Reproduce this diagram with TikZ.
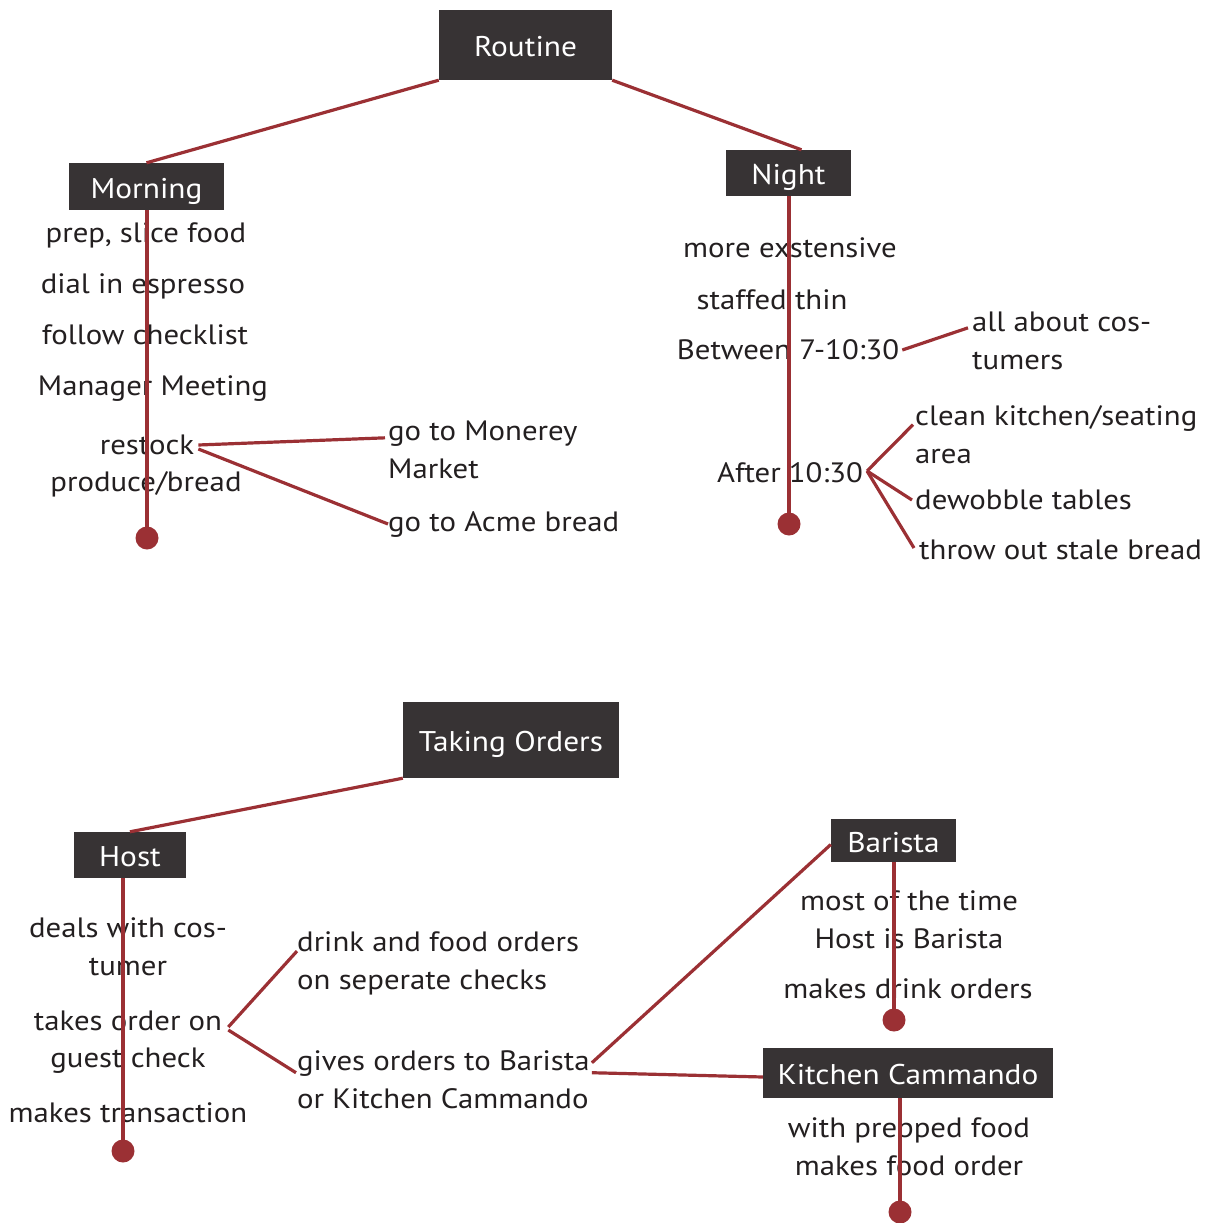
\documentclass[tikz,border=0pt]{standalone}
\usepackage{fontspec}
\setmainfont[FakeStretch=1.1]{PT Sans}
\usetikzlibrary{calc}
\definecolor{boxc}{HTML}{373334}
\definecolor{linec}{HTML}{9B3034}
\definecolor{txtc}{HTML}{231F20}
\begin{document}
\begin{tikzpicture}[x=1pt,y=-1pt,
  hdr/.style={fill=boxc,text=white,inner sep=0pt,text height=23pt,text depth=0pt,font=\fontsize{28.5}{34}\selectfont},
  itm/.style={text=txtc,inner sep=0pt,font=\fontsize{28}{38}\selectfont,align=center},
  itml/.style={itm,align=left,anchor=west},
  conn/.style={draw=linec,line width=3.2pt},
  enddot/.style={circle,fill=linec,inner sep=0pt,minimum size=23pt}]
\useasboundingbox (0,0) rectangle (1212,1223);
% ---------- top tree ----------
\node[hdr,minimum width=173pt,minimum height=70pt] (routine) at (525.5,45) {Routine};
\node[hdr,minimum width=155pt,minimum height=47pt] (morning) at (146.5,186.5) {Morning};
\node[hdr,minimum width=125pt,minimum height=46pt] (night) at (788.5,173) {Night};

\node[itm] (m1) at (146,235) {prep, slice food};
\node[itm] (m2) at (143,286) {dial in espresso};
\node[itm] (m3) at (145,335) {follow checklist};
\node[itm] (m4) at (153,389) {Manager Meeting};
\node[itm] (m5a) at (147,445) {restock};
\node[itm] (m5b) at (146,484) {produce/bread};
\node[enddot] (mdot) at (147,538) {};
\node[itml] (mon) at (388,450) {go to Monerey\\Market};
\node[itml] (acme) at (388,525) {go to Acme bread};

\node[itm] (n1) at (790,248) {more exstensive};
\node[itm] (n2) at (772,300) {staffed thin};
\node[itm] (n3) at (788,350) {Between 7-10:30};
\node[itml] (cos) at (972,341) {all about cos-\\tumers};
\node[itm] (n4) at (790,473) {After 10:30};
\node[itml] (clean) at (915,435) {clean kitchen/seating\\area};
\node[itml] (dew) at (915,500) {dewobble tables};
\node[itml] (stale) at (919,550) {throw out stale bread};
\node[enddot] (ndot) at (789,524) {};

\draw[conn] (routine.south west) -- (morning.north);
\draw[conn] (routine.south east) -- ($(night.north)+(13,0)$);
\draw[conn] (mdot.center) -- (mdot.center |- morning.south);
\draw[conn] (ndot.center) -- (ndot.center |- night.south);
\draw[conn] ($(m5a.east)+(4,0)$) -- ($(mon.north west)+(-3,17)$);
\draw[conn] ($(m5a.east)+(4,4)$) -- ($(acme.west)+(0,-1)$);
\draw[conn] ($(n3.east)+(3,0)$) -- ($(cos.north west)+(-4,16)$);
\draw[conn] ($(n4.east)+(4,-2)$) -- ($(clean.north west)+(-2,19)$);
\draw[conn] ($(n4.east)+(4,-2)$) -- ($(dew.west)+(-3,0)$);
\draw[conn] ($(n4.east)+(4,-2)$) -- ($(stale.west)+(-5,-2)$);

% ---------- bottom tree ----------
\node[hdr,minimum width=216pt,minimum height=76pt] (taking) at (511,740) {Taking Orders};
\node[hdr,minimum width=112pt,minimum height=46pt] (host) at (130,855) {Host};
\node[hdr,minimum width=125pt,minimum height=43pt] (barista) at (893.5,840.5) {Barista};
\node[hdr,minimum width=290pt,minimum height=50pt] (kitchen) at (908,1073) {Kitchen Cammando};

\node[itm] (h1) at (128,947) {deals with cos-\\tumer};
\node[itm] (h2a) at (128,1021) {takes order on};
\node[itm] (h2b) at (128,1061) {guest check};
\node[itm] (h3) at (128,1113) {makes transaction};
\node[enddot] (hdot) at (123,1151) {};
\node[itml] (drink) at (297,963) {drink and food orders\\on seperate checks};
\node[itml] (gives) at (297,1080) {gives orders to Barista\\or Kitchen Cammando};

\node[itm] (b1) at (909,920) {most of the time\\Host is Barista};
\node[itm] (b2) at (908,989) {makes drink orders};
\node[enddot] (bdot) at (894,1020) {};
\node[itm] (k1) at (909,1147) {with prepped food\\makes food order};
\node[enddot] (kdot) at (900,1212) {};

\draw[conn] (taking.south west) -- (host.north);
\draw[conn] (hdot.center) -- (hdot.center |- host.south);
\draw[conn] (bdot.center) -- (bdot.center |- barista.south);
\draw[conn] (kdot.center) -- (kdot.center |- kitchen.south);
\draw[conn] ($(h2a.east)+(6,6)$) -- ($(drink.north west)+(0,20)$);
\draw[conn] ($(h2a.east)+(6,9)$) -- ($(gives.north west)+(-1,22)$);
\draw[conn] ($(gives.north east)+(2,12)$) -- ($(barista.west)+(0,4)$);
\draw[conn] ($(gives.north east)+(2,22)$) -- ($(kitchen.west)+(0,4)$);
\end{tikzpicture}
\end{document}
